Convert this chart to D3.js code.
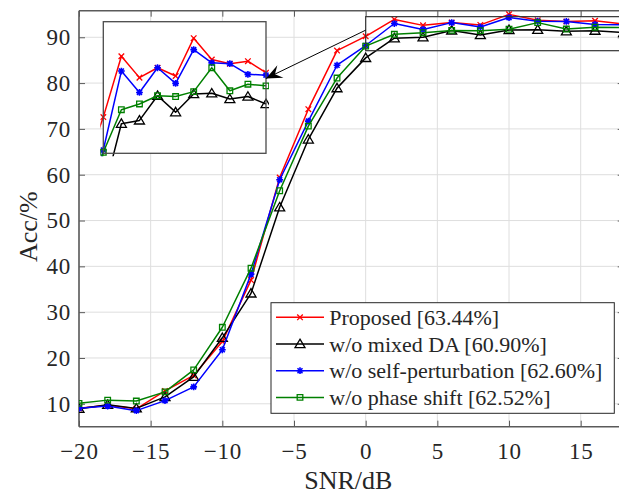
<!DOCTYPE html>
<html><head><meta charset="utf-8">
<script src="https://cdn.jsdelivr.net/npm/d3@7"></script>
<style>
body{margin:0;background:#fff}
svg{display:block}
text{font-family:"Liberation Serif","Times New Roman",serif;fill:#262626}
</style>
</head><body>
<svg id="chart" width="619" height="495"></svg>
<script>
// ---- data ----
const snr = [-20,-18,-16,-14,-12,-10,-8,-6,-4,-2,0,2,4,6,8,10,12,14,16,18];
const proposed     = [9.0,9.7,8.9,12.8,16.2,23.6,37.0,59.4,74.3,87.1,90.2,93.9,92.6,93.2,92.7,95.0,93.7,93.45,93.6,92.9];
const noMixedDA    = [8.9,9.8,9.0,11.5,15.9,24.4,34.1,52.9,67.7,78.9,85.5,89.8,90.0,91.5,90.5,91.6,91.65,91.3,91.45,91.0];
const noSelfPert   = [9.0,9.5,8.5,10.7,13.7,21.8,38.3,58.9,71.7,83.9,88.2,93.0,91.7,93.2,92.25,94.3,93.5,93.45,92.8,92.75];
const noPhaseShift = [10.1,10.8,10.6,12.6,17.4,26.7,39.6,56.5,70.6,81.1,88.06,90.65,91.0,91.5,91.45,91.75,93.2,91.8,92.2,92.1];
const seriesLabels = ["Proposed [63.44%]","w/o mixed DA [60.90%]","w/o self-perturbation [62.60%]","w/o phase shift [62.52%]"];
const seriesColors = ["#ff0000","#000000","#0000ff","#008000"];
const seriesMarkers = ["x","triangle","asterisk","square"];
const xTicks = [-20,-15,-10,-5,0,5,10,15];
const yTicks = [10,20,30,40,50,60,70,80,90];
const xLabel = "SNR/dB";
const yLabel = "Acc/%";

const seriesValues = [proposed, noMixedDA, noSelfPert, noPhaseShift];
const series = seriesValues.map((vals,i)=>({
  name: seriesLabels[i], color: seriesColors[i], marker: seriesMarkers[i],
  pts: snr.map((x,j)=>({x, y: vals[j]}))
}));

// ---- layout ----
const L = 79, R = 623.7, T = 10.7, B = 426.7;
const axisColor = "#5a5a5a", gridColor = "#dedede";
const svg = d3.select("#chart");
svg.append("rect").attr("width",619).attr("height",495).attr("fill","#fff");

const x = d3.scaleLinear().domain([-20,18]).range([L,R]);
const y = d3.scaleLinear().domain([5,95.8]).range([B,T]);

const defs = svg.append("defs");
defs.append("clipPath").attr("id","clipMain").append("rect")
  .attr("x",L).attr("y",T).attr("width",R-L).attr("height",B-T);

// grid
const g = svg.append("g");
g.selectAll(".gx").data(xTicks).join("line")
  .attr("x1",d=>x(d)).attr("x2",d=>x(d)).attr("y1",T).attr("y2",B)
  .attr("stroke",gridColor).attr("stroke-width",1);
g.selectAll(".gy").data(yTicks).join("line")
  .attr("y1",d=>y(d)).attr("y2",d=>y(d)).attr("x1",L).attr("x2",R)
  .attr("stroke",gridColor).attr("stroke-width",1);

// axes via d3 axis (inward ticks)
const fmt = d3.format("d");
const axB = svg.append("g").attr("transform",`translate(0,${B})`)
  .call(d3.axisBottom(x).tickValues(xTicks).tickSize(-6).tickPadding(16).tickFormat(fmt));
const axL = svg.append("g").attr("transform",`translate(${L},0)`)
  .call(d3.axisLeft(y).tickValues(yTicks).tickSize(-6).tickPadding(8).tickFormat(fmt));
const axT = svg.append("g").attr("transform",`translate(0,${T})`)
  .call(d3.axisTop(x).tickValues(xTicks).tickSize(-6).tickFormat(""));
const axR = svg.append("g").attr("transform",`translate(${R},0)`)
  .call(d3.axisRight(y).tickValues(yTicks).tickSize(-6).tickFormat(""));
[axB,axL,axT,axR].forEach(a=>{
  a.select(".domain").attr("stroke",axisColor).attr("stroke-width",1.6);
  a.selectAll(".tick line").attr("stroke",axisColor).attr("stroke-width",1);
  a.selectAll("text").attr("font-size",23).attr("letter-spacing","0.8px")
    .attr("font-family",'"Liberation Serif","Times New Roman",serif').attr("fill","#262626");
});
axB.select(".domain").attr("d",`M${L},0H${R}`);
axT.select(".domain").attr("d",`M${L},0H${R}`);
axL.select(".domain").attr("d",`M0,${T}V${B}`);
axR.select(".domain").attr("d",`M0,${T}V${B}`);

// axis labels
svg.append("text").attr("x",(L+R)/2 - 3).attr("y",489).attr("text-anchor","middle")
  .attr("font-size",26).text(xLabel);
svg.append("text").attr("transform",`translate(37,${(T+B)/2+8}) rotate(-90)`)
  .attr("text-anchor","middle").attr("font-size",26).text(yLabel);

// markers
function markerPath(type){
  switch(type){
    case "x": { const s=2.8; return `M${-s},${-s}L${s},${s}M${-s},${s}L${s},${-s}`; }
    case "triangle": return "M0,-4.8L5,3.6L-5,3.6Z";
    case "asterisk": { const s=3.4, t=2.5; return `M${-s},0L${s},0M0,${-s}L0,${s}M${-t},${-t}L${t},${t}M${-t},${t}L${t},${-t}`; }
    case "square": { const s=2.8; return `M${-s},${-s}H${s}V${s}H${-s}Z`; }
  }
}
function drawSeries(parent, xs, ys){
  const line = d3.line().x(d=>xs(d.x)).y(d=>ys(d.y));
  series.forEach(s=>{
    const sg = parent.append("g");
    sg.append("path").datum(s.pts).attr("d",line).attr("fill","none")
      .attr("stroke",s.color).attr("stroke-width",1.5).attr("stroke-linejoin","round");
    sg.selectAll("path.m").data(s.pts).join("path").attr("class","m")
      .attr("transform",d=>`translate(${xs(d.x)},${ys(d.y)})`)
      .attr("d",markerPath(s.marker)).attr("fill",s.marker==="asterisk"?s.color:"none")
      .attr("stroke",s.color).attr("stroke-width",s.marker==="asterisk"?1.6:1.3);
  });
}
const plot = svg.append("g").attr("clip-path","url(#clipMain)");
drawSeries(plot, x, y);

// zoom rectangle in main plot
svg.append("rect").attr("x",x(0)).attr("y",y(94.5))
  .attr("width",x(18)-x(0)).attr("height",y(87.07)-y(94.5))
  .attr("fill","none").attr("stroke","#333").attr("stroke-width",1.2);

// inset
const iL=103.3, iR=266, iT=21.7, iB=153.3;
const xi = d3.scaleLinear().domain([0,18]).range([iL,iR]);
const yi = d3.scaleLinear().domain([88,96]).range([iB,iT]);
defs.append("clipPath").attr("id","clipInset").append("rect")
  .attr("x",iL-3).attr("y",iT).attr("width",iR-iL+6).attr("height",iB-iT+3);
svg.append("rect").attr("x",iL).attr("y",iT).attr("width",iR-iL).attr("height",iB-iT)
  .attr("fill","#fff");
const inset = svg.append("g").attr("clip-path","url(#clipInset)");
drawSeries(inset, xi, yi);
svg.append("rect").attr("x",iL).attr("y",iT).attr("width",iR-iL).attr("height",iB-iT)
  .attr("fill","none").attr("stroke","#4a4a4a").attr("stroke-width",1.3);

// arrow from zoom rect to inset
const start=[x(0), y(91.55)], end=[iR, yi(92.55)];
svg.append("line").attr("x1",start[0]).attr("y1",start[1]).attr("x2",end[0]).attr("y2",end[1])
  .attr("stroke","#000").attr("stroke-width",1);
{
  const dx=end[0]-start[0], dy=end[1]-start[1], len=Math.hypot(dx,dy);
  const ux=dx/len, uy=dy/len, px=-uy, py=ux, Lh=16, W=7;
  const bx=end[0]-Lh*ux, by=end[1]-Lh*uy;
  const nx=end[0]-0.62*Lh*ux, ny=end[1]-0.62*Lh*uy;
  svg.append("path").attr("d",`M${end[0]},${end[1]}L${bx+W*px},${by+W*py}L${nx},${ny}L${bx-W*px},${by-W*py}Z`)
    .attr("fill","#000");
}

// legend
const lgX=271, lgY=302.7, lgW=343.3, lgH=110.6;
const lg = svg.append("g");
lg.append("rect").attr("x",lgX).attr("y",lgY).attr("width",lgW).attr("height",lgH)
  .attr("fill","#fff").attr("stroke","#262626").attr("stroke-width",1);
series.forEach((s,i)=>{
  const cy = 317.3 + i*26.7;
  lg.append("line").attr("x1",276).attr("x2",324).attr("y1",cy).attr("y2",cy)
    .attr("stroke",s.color).attr("stroke-width",1.5);
  lg.append("path").attr("transform",`translate(300,${cy})`).attr("d",markerPath(s.marker))
    .attr("fill",s.marker==="asterisk"?s.color:"none").attr("stroke",s.color)
    .attr("stroke-width",s.marker==="asterisk"?1.6:1.3);
  lg.append("text").attr("x",329.3).attr("y",cy+7.5).attr("font-size",22).text(s.name);
});
</script>
</body></html>
